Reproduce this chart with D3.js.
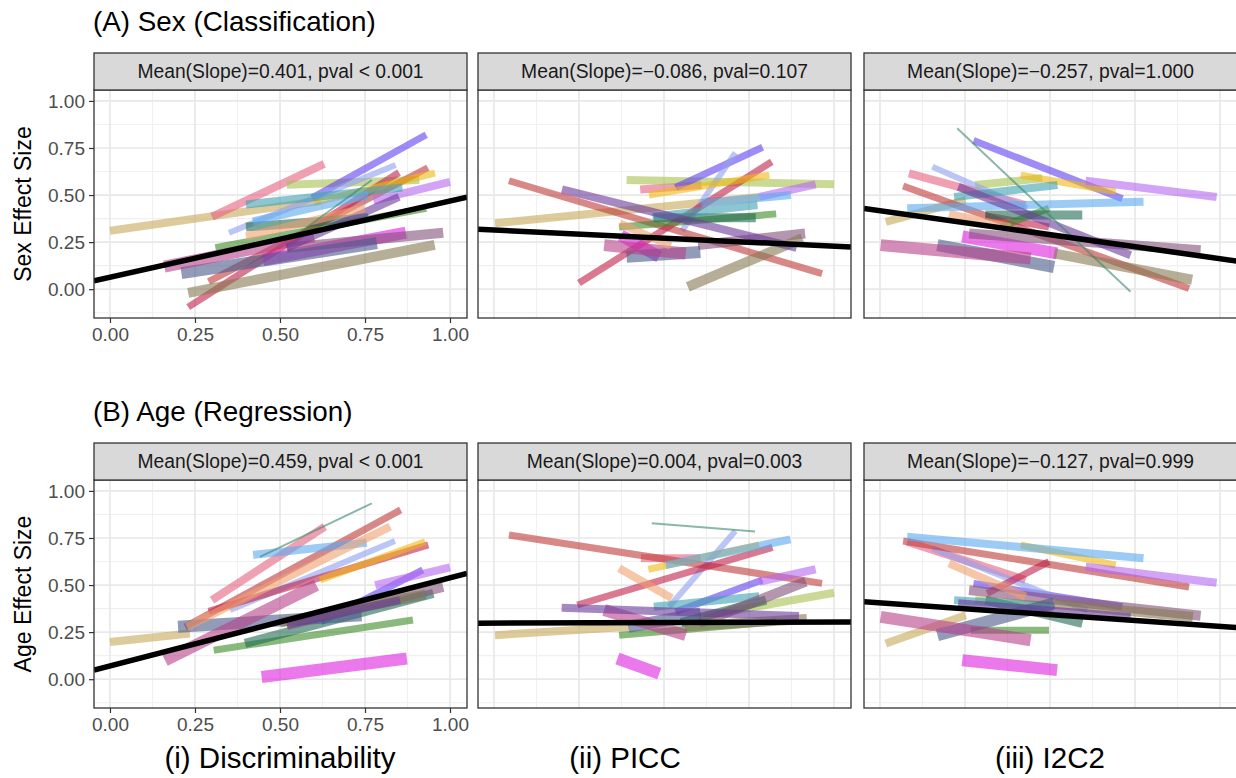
<!DOCTYPE html>
<html>
<head>
<meta charset="utf-8">
<script src="https://cdn.jsdelivr.net/npm/d3@7"></script>
<style>
  body { margin: 0; background: #fff; }
  text { font-family: "Liberation Sans", Arial, Helvetica, sans-serif; }
</style>
</head>
<body>
<svg id="chart" width="1236" height="778"></svg>
<script>

// datasets (one segment per dataset per panel)
const datasets = ["D01","D02","D03","D04","D05","D06","D07","D08","D09","D10","D11",
                  "D12","D13","D14","D15","D16","D17","D18","D19","D20","D21"];
// rough sample sizes, read from the stroke widths
const sampleSize = [800, 800, 800, 700, 600, 700, 700, 700, 800, 700, 900,
                    800, 800, 1200, 1000, 1200, 1000, 1200, 800, 800, 200];

// segments: [x1, y1, x2, y2], same order as datasets, null = not drawn
const sexDisc = [
  [0.00,0.31,0.62,0.47], [0.30,0.385,0.63,0.665], [0.52,0.555,0.91,0.58], [0.595,0.485,0.93,0.82],
  [0.35,0.30,0.84,0.66], [0.29,0.04,0.935,0.645], [0.23,-0.095,0.85,0.62], [0.60,0.46,0.956,0.617],
  [0.775,0.47,1.0,0.57], [0.31,0.22,0.93,0.43], [0.40,0.33,0.76,0.38], [0.40,0.45,0.86,0.54],
  [0.42,0.36,0.76,0.50], [0.45,0.155,0.87,0.30], [0.52,0.22,0.98,0.30], [0.21,0.085,0.785,0.245],
  [0.23,-0.02,0.955,0.235], [0.16,0.12,0.60,0.28], [0.52,0.22,0.85,0.49], [0.40,0.28,0.75,0.43],
  [0.58,0.33,0.77,0.58]
];
const sexPicc = [
  [0.003,0.35,0.78,0.49], [0.43,0.53,0.61,0.553], [0.39,0.58,1.0,0.557], [0.534,0.54,0.79,0.754],
  [0.553,0.31,0.71,0.725], [0.044,0.576,0.965,0.083], [0.25,0.033,0.817,0.677], [0.456,0.50,0.81,0.606],
  [0.78,0.49,0.946,0.557], [0.368,0.33,0.83,0.40], [0.47,0.38,0.77,0.38], [0.466,0.385,0.775,0.447],
  [0.61,0.456,0.873,0.50], [0.373,0.287,0.486,0.172], [0.60,0.234,0.915,0.296], [0.39,0.172,0.607,0.198],
  [0.57,0.012,0.907,0.27], [0.324,0.234,0.564,0.19], [0.20,0.53,0.89,0.22], [0.37,0.35,0.52,0.23],
  null
];
const sexI2c2 = [
  [0.017,0.358,0.252,0.473], [0.085,0.615,0.428,0.447], [0.28,0.553,0.477,0.589], [0.275,0.79,0.713,0.48],
  [0.154,0.65,0.433,0.43], [0.068,0.548,0.909,0.004], [0.31,0.39,0.497,0.33], [0.414,0.606,0.693,0.518],
  [0.605,0.576,0.99,0.49], [0.355,0.33,0.497,0.43], [0.31,0.394,0.595,0.394], [0.218,0.49,0.522,0.553],
  [0.08,0.43,0.775,0.464], [0.242,0.28,0.521,0.19], [0.262,0.296,0.943,0.207], [0.169,0.234,0.512,0.118],
  [0.512,0.19,0.918,0.05], [0.002,0.234,0.443,0.163], [0.23,0.544,0.737,0.18], [0.203,0.40,0.384,0.33],
  [0.227,0.855,0.737,-0.014]
];
const ageDisc = [
  [0.0,0.198,0.235,0.243], [0.30,0.42,0.632,0.81], null, [0.62,0.305,0.92,0.58],
  [0.353,0.367,0.838,0.734], [0.221,0.278,0.855,0.899], [0.29,0.36,0.936,0.713], [0.618,0.527,0.927,0.73],
  [0.78,0.50,1.0,0.594], [0.305,0.154,0.891,0.314], [0.397,0.19,0.951,0.456], [0.55,0.30,0.93,0.45],
  [0.421,0.66,0.755,0.725], [0.446,0.012,0.873,0.11], [0.52,0.287,0.98,0.49], [0.20,0.278,0.74,0.34],
  [0.50,0.30,0.927,0.45], [0.162,0.10,0.607,0.50], [0.52,0.29,0.853,0.42], [0.226,0.278,0.824,0.81],
  [0.441,0.65,0.77,0.934]
];
const agePicc = [
  [0.003,0.234,0.397,0.278], [0.432,0.642,0.608,0.642], [0.603,0.331,1.0,0.459], [0.534,0.358,0.789,0.527],
  [0.515,0.385,0.71,0.787], [0.044,0.766,0.965,0.509], [0.245,0.394,0.819,0.70], [0.454,0.583,0.78,0.713],
  [0.78,0.518,0.946,0.584], [0.368,0.234,0.829,0.305], [0.55,0.30,0.80,0.42], [0.47,0.385,0.78,0.44],
  [0.505,0.606,0.872,0.743], [0.363,0.11,0.486,0.03], [0.603,0.296,0.917,0.518], [0.395,0.278,0.608,0.349],
  [0.56,0.28,0.92,0.32], [0.324,0.367,0.564,0.234], [0.199,0.38,0.897,0.335], [0.368,0.589,0.523,0.43],
  [0.464,0.828,0.768,0.784]
];
const ageI2c2 = [
  [0.017,0.19,0.252,0.34], [0.08,0.73,0.428,0.527], [0.28,0.42,0.50,0.39], [0.275,0.509,0.713,0.385],
  [0.154,0.695,0.61,0.367], [0.068,0.734,0.909,0.49], [0.315,0.456,0.497,0.624], [0.414,0.713,0.693,0.606],
  [0.605,0.597,0.99,0.512], [0.267,0.26,0.497,0.26], [0.31,0.42,0.595,0.296], [0.218,0.42,0.512,0.385],
  [0.08,0.757,0.775,0.642], [0.242,0.101,0.521,0.048], [0.262,0.473,0.943,0.337], [0.169,0.234,0.512,0.403],
  [0.51,0.40,0.92,0.33], [0.002,0.331,0.443,0.207], [0.23,0.403,0.737,0.331], [0.203,0.615,0.428,0.438],
  null
];

// mean fit per panel: [intercept, slope]
const meanFits = [[0.063,0.406],[0.314,-0.086],[0.417,-0.255],
                  [0.070,0.469],[0.298,0.006],[0.405,-0.124]];

const stripLabels = [
  "Mean(Slope)=0.401, pval < 0.001", "Mean(Slope)=\u22120.086, pval=0.107", "Mean(Slope)=\u22120.257, pval=1.000",
  "Mean(Slope)=0.459, pval < 0.001", "Mean(Slope)=0.004, pval=0.003", "Mean(Slope)=\u22120.127, pval=0.999"
];
const rowTitles = ["(A) Sex (Classification)", "(B) Age (Regression)"];
const rowAxisTitles = ["Sex Effect Size", "Age Effect Size"];
const colTitles = ["(i) Discriminability", "(ii) PICC", "(iii) I2C2"];
const yTicks = [0, 0.25, 0.5, 0.75, 1];
const xTicks = [0, 0.25, 0.5, 0.75, 1];

const panels = [sexDisc, sexPicc, sexI2c2, ageDisc, agePicc, ageI2c2];

const palette = ["#c8a85a","#e4607e","#a8c050","#6040f0","#8fa0f0","#c03838","#c0204a",
                 "#f0b810","#b565f0","#3c8a28","#1f6a50","#3fa0b0","#5aaaf0","#e020e0",
                 "#84507a","#4a5a8a","#857850","#b8408a","#6a3a9a","#f0a070","#3a8a6a"];
const color = d3.scaleOrdinal().domain(datasets).range(palette);
const lw = d3.scaleLinear().domain([0, 1200]).range([0, 12]);

const svg = d3.select("#chart");
const W = 373;
const colLeft = [94, 478, 864];
const rowTop = [90, 480];      // plot area top
const stripH = 37;
const plotH = 228;

const x = d3.scaleLinear().domain([-0.047, 1.05]).range([0, W]);
const y = d3.scaleLinear().domain([-0.153, 1.058]).range([plotH, 0]);

const defs = svg.append("defs");
defs.append("clipPath").attr("id", "clip")
  .append("rect").attr("width", W).attr("height", plotH);

panels.forEach((segs, i) => {
  const r = Math.floor(i / 3), c = i % 3;
  const g = svg.append("g").attr("transform", `translate(${colLeft[c]},${rowTop[r]})`);

  g.append("rect").attr("width", W).attr("height", plotH).attr("fill", "#fff");

  // minor grid
  const minorX = d3.range(0.125, 1.01, 0.25);
  const minorY = d3.range(-0.125, 1.01, 0.25);
  g.selectAll(".mx").data(minorX).enter().append("line")
    .attr("x1", d => x(d)).attr("x2", d => x(d)).attr("y1", 0).attr("y2", plotH)
    .attr("stroke", "#f0f0f0").attr("stroke-width", 1.1);
  g.selectAll(".my").data(minorY).enter().append("line")
    .attr("y1", d => y(d)).attr("y2", d => y(d)).attr("x1", 0).attr("x2", W)
    .attr("stroke", "#f0f0f0").attr("stroke-width", 1.1);
  // major grid
  g.selectAll(".gx").data(xTicks).enter().append("line")
    .attr("x1", d => x(d)).attr("x2", d => x(d)).attr("y1", 0).attr("y2", plotH)
    .attr("stroke", "#e8e8e8").attr("stroke-width", 1.7);
  g.selectAll(".gy").data(yTicks).enter().append("line")
    .attr("y1", d => y(d)).attr("y2", d => y(d)).attr("x1", 0).attr("x2", W)
    .attr("stroke", "#e8e8e8").attr("stroke-width", 1.7);

  const marks = g.append("g").attr("clip-path", "url(#clip)");
  const rows = segs.map((s, k) => ({ s: s, k: k })).filter(d => d.s);
  marks.selectAll(".seg").data(rows).enter().append("line")
    .attr("x1", d => x(d.s[0])).attr("y1", d => y(d.s[1]))
    .attr("x2", d => x(d.s[2])).attr("y2", d => y(d.s[3]))
    .attr("stroke", d => color(datasets[d.k]))
    .attr("stroke-width", d => lw(sampleSize[d.k]))
    .attr("stroke-opacity", 0.6);

  const fit = meanFits[i];
  const xd = x.domain();
  marks.append("line")
    .attr("x1", x(xd[0])).attr("y1", y(fit[0] + fit[1] * xd[0]))
    .attr("x2", x(xd[1])).attr("y2", y(fit[0] + fit[1] * xd[1]))
    .attr("stroke", "#000").attr("stroke-width", 5.5);

  g.append("rect").attr("width", W).attr("height", plotH)
    .attr("fill", "none").attr("stroke", "#333").attr("stroke-width", 1.3);

  // strip
  g.append("rect").attr("y", -stripH).attr("width", W).attr("height", stripH)
    .attr("fill", "#d9d9d9").attr("stroke", "#333").attr("stroke-width", 1.3);
  g.append("text").attr("x", W / 2).attr("y", -stripH / 2).attr("dy", "0.36em")
    .attr("text-anchor", "middle").attr("fill", "#1a1a1a").style("font-size", "19.3px")
    .text(stripLabels[i]);

  if (c === 0) {
    const ya = g.append("g").call(d3.axisLeft(y).tickValues(yTicks).tickFormat(d3.format(".2f")).tickSize(5).tickPadding(4));
    ya.select(".domain").remove();
    ya.selectAll("line").attr("stroke", "#333").attr("stroke-width", 1.2);
    ya.selectAll("text").attr("fill", "#4d4d4d").style("font-size", "19px");

    const xa = g.append("g").attr("transform", `translate(0,${plotH})`)
      .call(d3.axisBottom(x).tickValues(xTicks).tickFormat(d3.format(".2f")).tickSize(5).tickPadding(5));
    xa.select(".domain").remove();
    xa.selectAll("line").attr("stroke", "#333").attr("stroke-width", 1.2);
    xa.selectAll("text").attr("fill", "#4d4d4d").style("font-size", "19px");

    svg.append("text")
      .attr("transform", `translate(31,${rowTop[r] + plotH / 2}) rotate(-90)`)
      .attr("text-anchor", "middle").style("font-size", "23px").attr("fill", "#000")
      .text(rowAxisTitles[r]);
  }
});

svg.selectAll(".rowTitle").data(rowTitles).enter().append("text")
  .attr("x", 93).attr("y", (d, i) => [31, 421][i])
  .style("font-size", "27.8px").attr("fill", "#000")
  .text(d => d);

svg.selectAll(".colTitle").data(colTitles).enter().append("text")
  .attr("x", (d, i) => [280, 625, 1050][i]).attr("y", 768)
  .attr("text-anchor", "middle")
  .style("font-size", "29.5px").attr("fill", "#000")
  .text(d => d);

</script>
</body>
</html>
